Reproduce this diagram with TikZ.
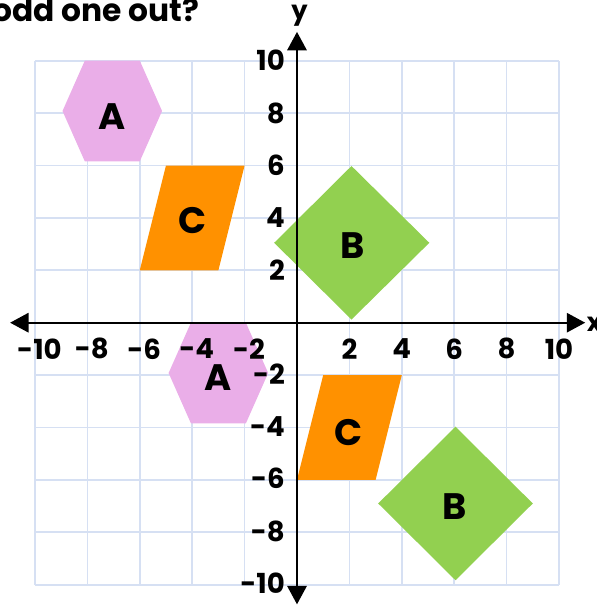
\documentclass[tikz,border=0pt]{standalone}
\usepackage{fontspec}
\setmainfont{Poppins}
\usetikzlibrary{arrows.meta}
\definecolor{gridc}{RGB}{214,224,243}
\definecolor{pinkc}{RGB}{234,174,232}
\definecolor{orangec}{RGB}{255,145,0}
\definecolor{greenc}{RGB}{146,208,80}
\tikzset{
  tick/.style={font=\bfseries\fontsize{15}{15}\selectfont, inner sep=0pt},
  axislabel/.style={font=\bfseries\fontsize{14}{14}\selectfont, inner sep=0pt},
  shapelabel/.style={font=\bfseries\fontsize{20}{20}\selectfont, inner sep=0pt},
  axisline/.style={line width=1.1pt, black, -{Triangle[length=10pt,width=10.5pt]}},
}
\begin{document}
\begin{tikzpicture}[x=0.5cm,y=0.5cm]
\useasboundingbox (-11.336,-10.775) rectangle (11.450,12.317);
% grid
\draw[gridc, line width=0.9pt] (-10,-10) grid[step=2] (10,10);
% hexagons A
\fill[pinkc] (-8.1,10) -- (-6.0,10) -- (-5.15,8.08) -- (-6.0,6.16) -- (-8.1,6.16) -- (-8.95,8.08) -- cycle;
\fill[pinkc] (-4.05,0) -- (-1.95,0) -- (-1.1,-1.92) -- (-1.95,-3.84) -- (-4.05,-3.84) -- (-4.9,-1.92) -- cycle;
% parallelograms C
\fill[orangec] (-6,2) -- (-3,2) -- (-2,6) -- (-5,6) -- cycle;
\fill[orangec] (0,-6) -- (3,-6) -- (4,-2) -- (1,-2) -- cycle;
% diamonds B
\fill[greenc] (2.08,5.98) -- (5.05,3.05) -- (2.08,0.12) -- (-0.87,3.05) -- cycle;
\fill[greenc] (6.05,-3.97) -- (9.0,-6.9) -- (6.05,-9.83) -- (3.1,-6.9) -- cycle;
% axes
\coordinate (xl) at (-10.95,0);
\coordinate (xr) at (11.0,0);
\coordinate (yb) at (0,-10.75);
\coordinate (yt) at (0,11.1);
\draw[axisline] (0,0) -- (xr);
\draw[axisline] (0,0) -- (xl);
\draw[axisline] (0,0) -- (yt);
\draw[axisline] (0,0) -- (yb);
\node[axislabel] (ylab) at (0.1,11.72) {y};
\node[axislabel, anchor=west] (xlab) at (11.05,-0.05) {x};
% tick labels
\foreach \v in {2,4,6,8,10} {
  \node[tick] (xt\v) at (\v,-1.0) {\v};
  \node[tick, anchor=east] (yt\v) at (-0.45,\v) {\v};
}
\foreach \v in {-2,-4,-6,-8,-10} {
  \node[tick] (xtn\v) at (\v+0.17,-1.0) {\v};
  \node[tick, anchor=east] (ytn\v) at (-0.45,\v+0.05) {\v};
}
% shape labels
\node[shapelabel] (a1) at (-7.05,7.85) {A};
\node[shapelabel] (a2) at (-3.0,-2.1) {A};
\node[shapelabel] (b1) at (2.14,2.96) {B};
\node[shapelabel] (b2) at (6.03,-7.0) {B};
\node[shapelabel] (c1) at (-3.97,3.9) {C};
\node[shapelabel] (c2) at (1.98,-4.2) {C};
% title
\node[anchor=base west, inner sep=0pt, font=\bfseries\fontsize{17}{17}\selectfont] (title) at (-11.64,11.48) {odd one out?};
\end{tikzpicture}
\end{document}
